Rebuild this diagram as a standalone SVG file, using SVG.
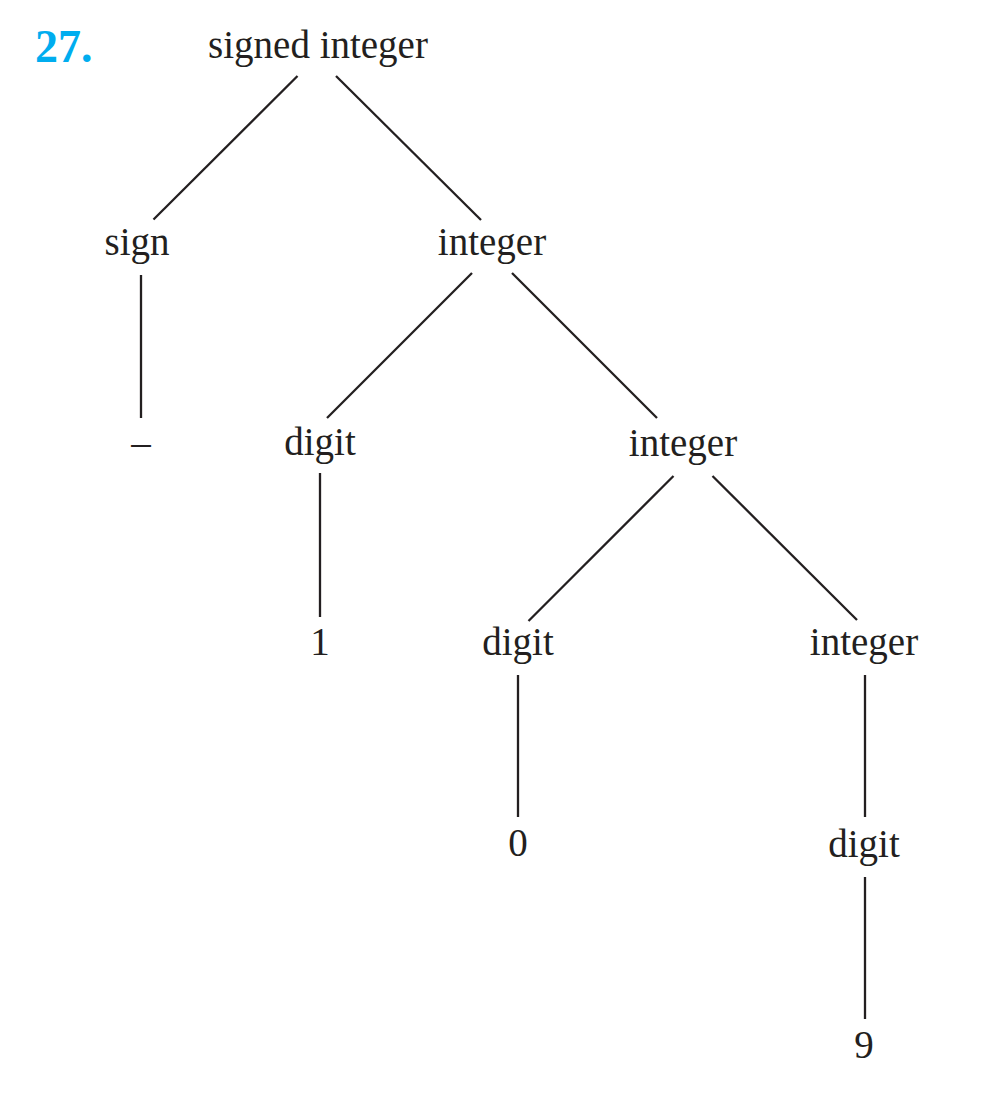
<svg xmlns="http://www.w3.org/2000/svg" width="983" height="1109" viewBox="0 0 983 1109">
<style>
.t{font-family:"Liberation Serif","Times New Roman",serif;font-size:39px;fill:#231f20;text-anchor:middle}
.n{font-family:"Liberation Serif","Times New Roman",serif;font-size:46px;font-weight:bold;fill:#00adef}
#edges line{stroke:#231f20;stroke-width:2.3;fill:none}
</style>
<rect width="983" height="1109" fill="#fff"/>
<text class="n" x="35" y="62">27.</text>
<g id="edges">
<line x1="297.5" y1="76" x2="153.5" y2="219.5"/>
<line x1="336" y1="76" x2="481" y2="220"/>
<line x1="141" y1="275" x2="141" y2="418"/>
<line x1="472" y1="273" x2="327" y2="418"/>
<line x1="512" y1="273" x2="657" y2="418"/>
<line x1="320" y1="473" x2="320" y2="617"/>
<line x1="673.5" y1="476" x2="528.5" y2="621"/>
<line x1="712.5" y1="476" x2="857" y2="620"/>
<line x1="518" y1="675" x2="518" y2="817"/>
<line x1="865" y1="675" x2="865" y2="817"/>
<line x1="865" y1="877" x2="865" y2="1019"/>
</g>
<g id="n_signed_integer"><text class="t" x="318" y="58">signed integer</text></g>
<g id="n_sign"><text class="t" x="137" y="255">sign</text></g>
<g id="n_integer1"><text class="t" x="492" y="255">integer</text></g>
<g id="n_minus"><text class="t" x="141" y="455">–</text></g>
<g id="n_digit1"><text class="t" x="320" y="455">digit</text></g>
<g id="n_integer2"><text class="t" x="683" y="456">integer</text></g>
<g id="n_one"><text class="t" x="320" y="655">1</text></g>
<g id="n_digit2"><text class="t" x="518" y="655">digit</text></g>
<g id="n_integer3"><text class="t" x="864" y="655">integer</text></g>
<g id="n_zero"><text class="t" x="518" y="856">0</text></g>
<g id="n_digit3"><text class="t" x="864" y="857">digit</text></g>
<g id="n_nine"><text class="t" x="864" y="1058">9</text></g>
</svg>
